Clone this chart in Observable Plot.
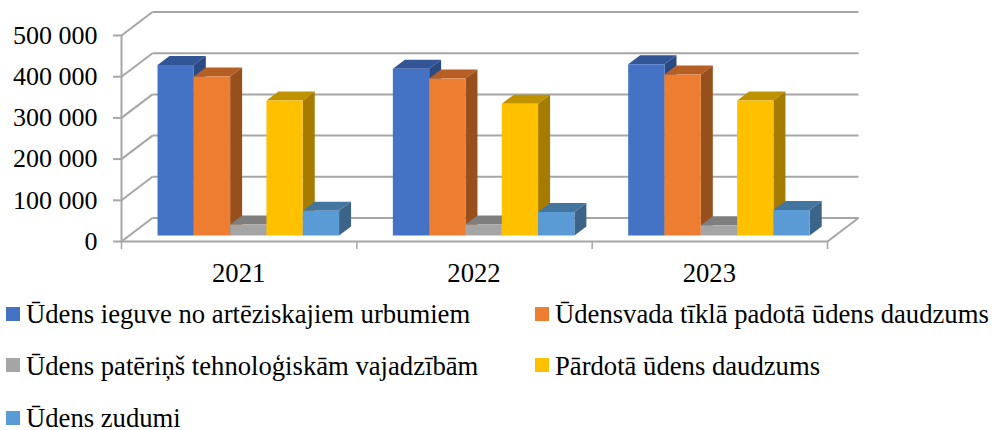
<!DOCTYPE html>
<html>
<head>
<meta charset="utf-8">
<script src="https://cdn.jsdelivr.net/npm/d3@7"></script>
<script src="https://cdn.jsdelivr.net/npm/@observablehq/plot@0.6"></script>
<style>
html,body{margin:0;padding:0;background:#fff;}
#wrap{position:relative;width:992px;height:430px;overflow:hidden;font-family:"Liberation Serif",serif;color:#000;}
#chart svg{display:block;}
#legend{position:absolute;left:0;top:0;width:992px;height:430px;}
.item{position:absolute;font-size:26.67px;line-height:24px;white-space:nowrap;}
.item i{position:absolute;left:-20px;width:14px;height:14px;}
</style>
</head>
<body>
<div id="wrap"><div id="chart"></div><div id="legend"></div></div>
<script>
const years = ["2021", "2022", "2023"];
const seriesNames = [
  "Ūdens ieguve no artēziskajiem urbumiem",
  "Ūdensvada tīklā padotā ūdens daudzums",
  "Ūdens patēriņš tehnoloģiskām vajadzībām",
  "Pārdotā ūdens daudzums",
  "Ūdens zudumi"
];
const extraction = [414000, 405000, 416000];
const supplied = [386000, 381000, 391000];
const technological = [27000, 27000, 25000];
const sold = [328000, 320000, 328000];
const losses = [60000, 57000, 62000];
const seriesValues = [extraction, supplied, technological, sold, losses];
const frontColors = ["#4472C4", "#ED7D31", "#A5A5A5", "#FFC000", "#5B9BD5"];
const topColors = ["#325596", "#B65F25", "#7E7E7E", "#C19200", "#44759F"];
const sideColors = ["#2B4A84", "#97501C", "#6C6C6C", "#A67C00", "#3B6488"];
const yTicks = [0, 100000, 200000, 300000, 400000, 500000];

// Depth of the box and of the bars, in scale units
const wallDx = 0.1317, wallDy = 57000;
const barStart = 0.153, barWidth = 0.1543;
const barDx = 0.051, barDy = 21800, baseDy = 14500;

const faces = [];
years.forEach((year, g) => {
  seriesValues.forEach((values, s) => {
    const x0 = g + barStart + s * barWidth, x1 = x0 + barWidth;
    const y0 = baseDy, y1 = baseDy + values[g];
    const add = (kind, fill, pts) =>
      pts.forEach(([x, y]) => faces.push({id: `${year}-${s}-${kind}`, fill, x, y}));
    add("top", topColors[s], [[x0, y1], [x1, y1], [x1 + barDx, y1 + barDy], [x0 + barDx, y1 + barDy]]);
    add("side", sideColors[s], [[x1, y0], [x1, y1], [x1 + barDx, y1 + barDy], [x1 + barDx, y0 + barDy]]);
    add("front", frontColors[s], [[x0, y0], [x1, y0], [x1, y1], [x0, y1]]);
  });
});

const grid = "#a6a6a6";
const fmt = d => d3.format(",")(d).replace(/,/g, " ");
const plot = Plot.plot({
  width: 992,
  height: 295,
  marginLeft: 121,
  marginRight: 165,
  marginTop: 35,
  marginBottom: 54,
  style: {fontFamily: "Liberation Serif", background: "transparent", color: "#000", overflow: "visible"},
  x: {domain: [0, 3], axis: null},
  y: {domain: [0, 500000], axis: null},
  color: {type: "identity"},
  marks: [
    Plot.link(yTicks, {x1: wallDx, x2: 3 + wallDx, y1: d => d + wallDy, y2: d => d + wallDy, stroke: grid, strokeWidth: 2}),
    Plot.link(yTicks, {x1: 0, x2: wallDx, y1: d => d, y2: d => d + wallDy, stroke: grid, strokeWidth: 2}),
    Plot.ruleX([0], {y1: 0, y2: 500000, stroke: grid, strokeWidth: 2}),
    Plot.ruleY([0], {x1: 0, x2: 3, stroke: grid, strokeWidth: 2}),
    Plot.link([0], {x1: 3, x2: 3 + wallDx, y1: 0, y2: wallDy, stroke: grid, strokeWidth: 2}),
    Plot.axisY({ticks: yTicks, anchor: "left", tickSize: 8, tickPadding: 16, tickFormat: fmt, fontSize: 26, stroke: grid, strokeWidth: 2, color: "#000", label: null}),
    Plot.axisX({ticks: [0, 1, 2, 3], anchor: "bottom", tickSize: 8, tickFormat: () => "", stroke: grid, strokeWidth: 1.5, label: null}),
    Plot.text(years, {x: (d, i) => i + 0.5, y: 0, text: d => d, dy: 32, dx: -0.5, fontSize: 26.67, fill: "#000"}),
    Plot.line(faces, {x: "x", y: "y", z: "id", fill: "fill", curve: "linear"})
  ]
});
document.getElementById("chart").appendChild(plot);

const legendPos = [[26, 302], [555, 302], [26, 354], [555, 354], [26, 406]];
const swatchTop = [5, 5, 4, 4, 5];
const legend = document.getElementById("legend");
seriesNames.forEach((name, i) => {
  const el = document.createElement("div");
  el.className = "item";
  el.style.left = legendPos[i][0] + "px";
  el.style.top = legendPos[i][1] + "px";
  el.textContent = name;
  const sw = document.createElement("i");
  sw.style.background = frontColors[i];
  sw.style.top = swatchTop[i] + "px";
  el.appendChild(sw);
  legend.appendChild(el);
});
</script>
</body>
</html>
